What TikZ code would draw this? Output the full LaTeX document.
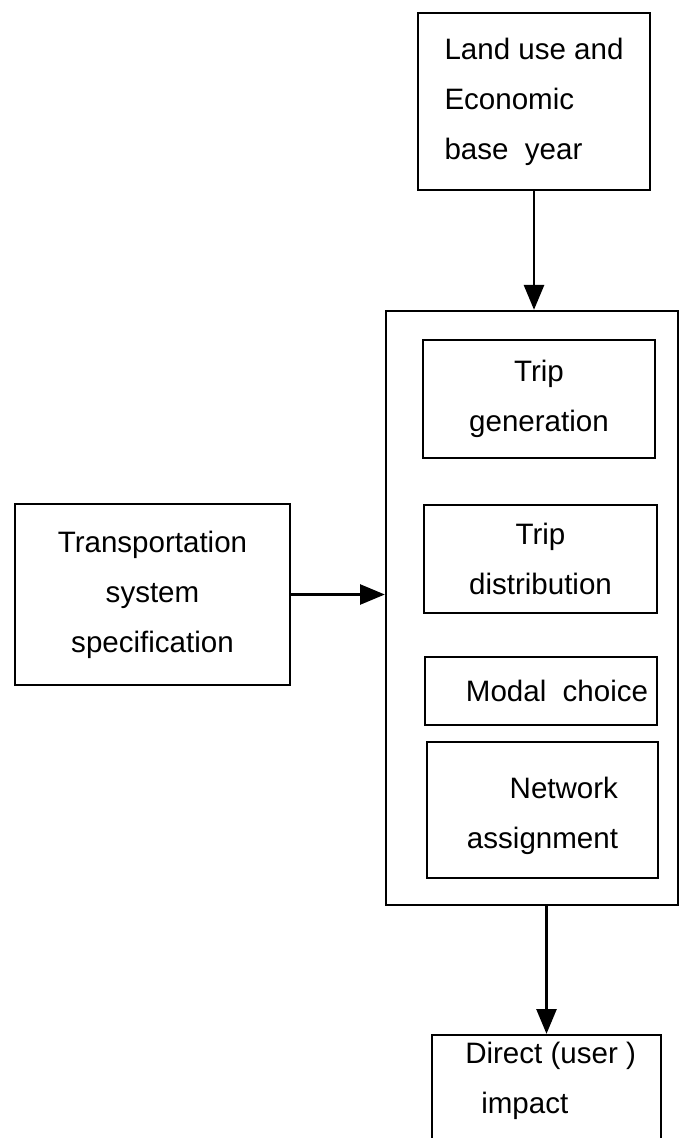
\documentclass[tikz,border=0pt]{standalone}
\usepackage{fontspec}
\newfontfamily\blkfont{Liberation Sans}
\usepackage{tikz}
\usetikzlibrary{arrows.meta,positioning}

\tikzset{
    blk/.style={draw,line width=1.6pt,inner sep=0pt,align=center,
        font={\blkfont\fontsize{21}{35.5}\selectfont}},
    txt/.style={inner sep=0pt,align=left,
        font={\blkfont\fontsize{21}{35.5}\selectfont}},
    flow/.style={line width=1.8pt,-{Triangle[length=0.62cm,width=0.5cm]}}
}

\begin{document}
\begin{tikzpicture}[x=0.025cm,y=-0.025cm]
    \useasboundingbox (0,0) rectangle (680,1138);

    % inputs
    \node[blk,align=left,minimum width=5.8cm,minimum height=4.425cm] (land) at (534,101.5)
        {Land use and\\Economic\\base\ \ year};
    \node[blk,minimum width=6.875cm,minimum height=4.525cm] (transp) at (152.5,594.5)
        {Transportation\\system\\specification};

    % the four stage model
    \node[draw,line width=1.6pt,minimum width=7.3cm,minimum height=14.85cm] (model) at (532,608) {};
    \node[blk,minimum width=5.8cm,minimum height=2.95cm] (gen) at (539,399) {Trip\\generation};
    \node[blk,minimum width=5.825cm,minimum height=2.7cm] (dist) at (540.5,559) {Trip\\distribution};
    \node[blk,minimum width=5.8cm,minimum height=1.7cm] (modal) at (541,691) {\hspace*{0.8cm}Modal\ \ choice};
    \node[blk,align=right,minimum width=5.775cm,minimum height=3.4cm] (assign) at (542.5,810)
        {\\[-0.4cm]Network\hspace*{0.15cm}\\assignment};

    % output, runs off the bottom edge
    \node[blk,minimum width=5.725cm,minimum height=2.875cm] (impact) at (546.5,1092.5) {};
    \node[txt,anchor=north west] (impacttxt) at (465,1042) {Direct (user )\\\hspace*{0.4cm}impact};

    \draw[flow] (land.south) -- (land.south |- model.north);
    \draw[flow] (transp.east) -- (transp.east -| model.west);
    \draw[flow] (impact.north |- model.south) -- (impact.north);
\end{tikzpicture}
\end{document}
